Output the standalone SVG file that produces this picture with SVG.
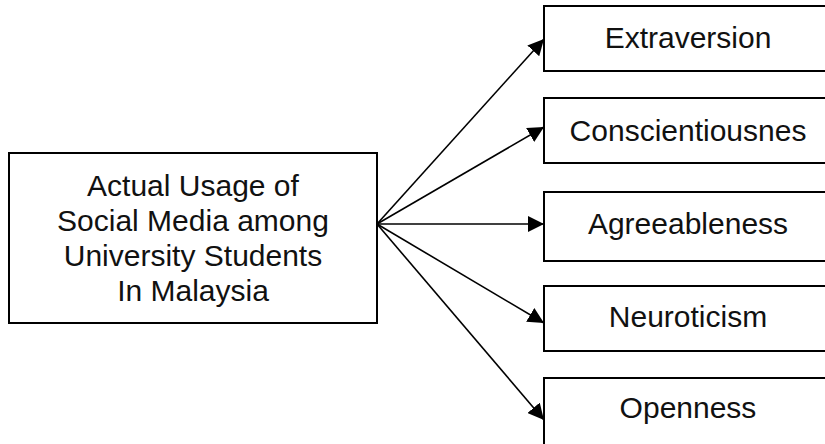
<svg xmlns="http://www.w3.org/2000/svg" width="825" height="444" viewBox="0 0 825 444">
  <style>
    .box { fill: #ffffff; stroke: #000000; stroke-width: 2; }
    .lbl { font-family: "Liberation Sans", Arial, sans-serif; font-size: 30px; fill: #111111; text-anchor: middle; }
    .edge { stroke: #000000; stroke-width: 1.6; fill: none; marker-end: url(#arrow); }
  </style>
  <defs>
    <marker id="arrow" viewBox="0 0 16 16" refX="16" refY="8" markerWidth="16" markerHeight="16" markerUnits="userSpaceOnUse" orient="auto">
      <path d="M0,0 L16,8 L0,16 Z" fill="#000000"/>
    </marker>
  </defs>
  <rect width="825" height="444" fill="#ffffff"/>

  <g id="usage">
    <rect class="box" x="9" y="153" width="368" height="170"/>
    <text class="lbl" x="193" y="196">Actual Usage of</text>
    <text class="lbl" x="193" y="231">Social Media among</text>
    <text class="lbl" x="193" y="266">University Students</text>
    <text class="lbl" x="193" y="301">In Malaysia</text>
  </g>

  <g id="extraversion">
    <rect class="box" x="544" y="6" width="290" height="65"/>
    <text class="lbl" x="688" y="48">Extraversion</text>
  </g>
  <g id="conscientiousness">
    <rect class="box" x="544" y="98" width="290" height="65"/>
    <text class="lbl" x="688" y="141">Conscientiousnes</text>
  </g>
  <g id="agreeableness">
    <rect class="box" x="544" y="192" width="290" height="69"/>
    <text class="lbl" x="688" y="234">Agreeableness</text>
  </g>
  <g id="neuroticism">
    <rect class="box" x="544" y="286" width="290" height="65"/>
    <text class="lbl" x="688" y="327">Neuroticism</text>
  </g>
  <g id="openness">
    <rect class="box" x="544" y="378" width="290" height="80"/>
    <text class="lbl" x="688" y="418">Openness</text>
  </g>

  <g id="connectors">
    <line class="edge" x1="377" y1="224" x2="544" y2="39"/>
    <line class="edge" x1="377" y1="224" x2="544" y2="127"/>
    <line class="edge" x1="377" y1="224" x2="544" y2="224"/>
    <line class="edge" x1="377" y1="224" x2="544" y2="323"/>
    <line class="edge" x1="377" y1="224" x2="544" y2="420"/>
  </g>
</svg>
